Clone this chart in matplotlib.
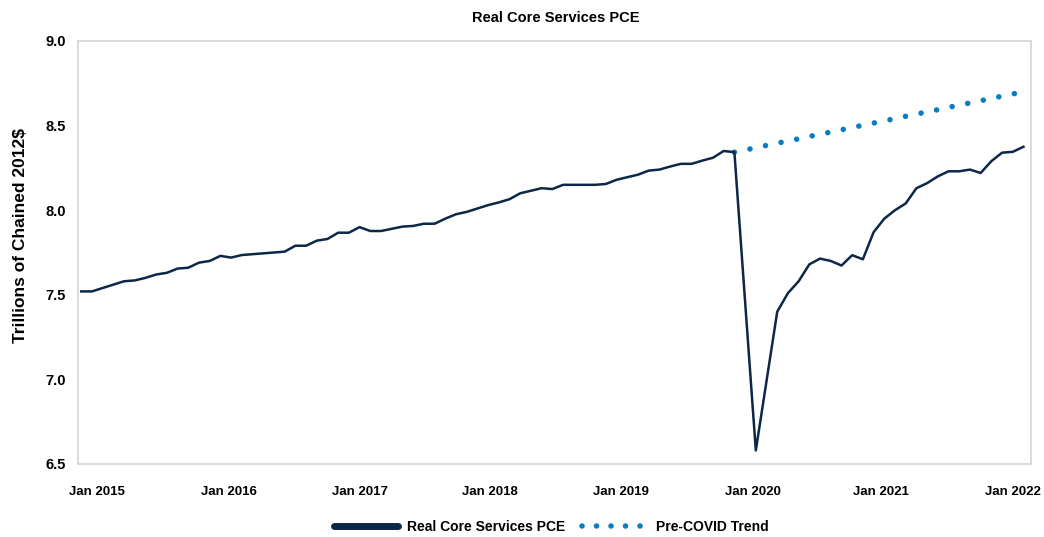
import numpy as np
import matplotlib
matplotlib.use('Agg')
import matplotlib.pyplot as plt
from matplotlib.lines import Line2D

# monthly values, Jan 2015 onwards (trillions of chained 2012$)
pce = [7.52, 7.52, 7.54, 7.56, 7.58, 7.585, 7.60, 7.62, 7.63, 7.655, 7.66, 7.69,
       7.70, 7.73, 7.72, 7.735, 7.74, 7.745, 7.75, 7.755, 7.79, 7.79, 7.82, 7.83,
       7.867, 7.867, 7.90, 7.877, 7.877, 7.89, 7.903, 7.907, 7.92, 7.92, 7.95, 7.976,
       7.99, 8.01, 8.03, 8.046, 8.065, 8.10, 8.115, 8.13, 8.125, 8.15, 8.15, 8.15,
       8.15, 8.155, 8.18, 8.195, 8.21, 8.234, 8.24, 8.258, 8.274, 8.274, 8.293, 8.31,
       8.35, 8.343, 7.46, 6.58, 6.99, 7.40, 7.51, 7.58, 7.68, 7.714, 7.70, 7.673,
       7.734, 7.71, 7.87, 7.95, 8.00, 8.04, 8.13, 8.16, 8.20, 8.23, 8.23, 8.24,
       8.22, 8.29, 8.34, 8.345, 8.375]

# pre-covid trend, starts at Feb 2020 (month 61)
trend_start = 61
trend = [8.343, 8.356, 8.369, 8.383, 8.396, 8.409, 8.422, 8.436, 8.449, 8.462,
         8.475, 8.489, 8.502, 8.515, 8.528, 8.541, 8.555, 8.568, 8.581, 8.594,
         8.608, 8.621, 8.634, 8.647, 8.661, 8.674, 8.687, 8.700]

tick_labels = ['Jan 2015', 'Jan 2016', 'Jan 2017', 'Jan 2018',
               'Jan 2019', 'Jan 2020', 'Jan 2021', 'Jan 2022']
tick_pos = [1.5, 13.8, 26.0, 38.2, 50.4, 62.7, 74.7, 87.0]
y_ticks = [6.5, 7.0, 7.5, 8.0, 8.5, 9.0]

navy = '#0c2747'
blue = '#0a7cc4'

plt.rcParams['font.family'] = ['Liberation Sans', 'DejaVu Sans']
plt.rcParams['font.weight'] = 'bold'
plt.rcParams['axes.labelweight'] = 'bold'

fig = plt.figure(figsize=(10.44, 5.37), dpi=100)
ax = fig.add_axes([78 / 1044, 1 - 464 / 537, (1031 - 78) / 1044, (464 - 41) / 537])

x = np.arange(len(pce))
ax.plot(x, pce, color=navy, lw=1.8, zorder=3)
xt = np.arange(trend_start, trend_start + len(trend))
ax.plot(xt, trend, color=blue, lw=4, linestyle=(0, (0.01, 2.85)),
        dash_capstyle='round', zorder=2)

ax.set_xlim(-0.3, 88.7)
ax.set_ylim(6.5, 9.0)
ax.set_yticks(y_ticks)
ax.set_yticklabels([f'{v:.1f}' for v in y_ticks])
ax.set_xticks(tick_pos)
ax.set_xticklabels(tick_labels)
ax.tick_params(axis='both', length=0, colors='black')
ax.tick_params(axis='x', pad=16, labelsize=9.5)
ax.tick_params(axis='y', pad=9, labelsize=10.5)
for s in ax.spines.values():
    s.set_color('#d4d4d4')
    s.set_linewidth(1.2)

ax.set_ylabel('Trillions of Chained 2012$', fontsize=12.5, fontweight='bold')
ax.yaxis.set_label_coords(-0.052, 0.54)
fig.text(556 / 1044, 0.967, 'Real Core Services PCE', ha='center', va='center',
         fontsize=10.5, fontweight='bold')

handles = [Line2D([], [], color=navy, lw=5, solid_capstyle='round'),
           Line2D([], [], color=blue, lw=4, linestyle=(0, (0.01, 2.6)), dash_capstyle='round')]
fig.legend(handles, ['Real Core Services PCE', 'Pre-COVID Trend'], loc='center',
           bbox_to_anchor=(0.528, 0.018), ncol=2, frameon=False, fontsize=10,
           handlelength=4.6, columnspacing=1.2, handletextpad=0.7)

fig.savefig('out.png', dpi=100)
